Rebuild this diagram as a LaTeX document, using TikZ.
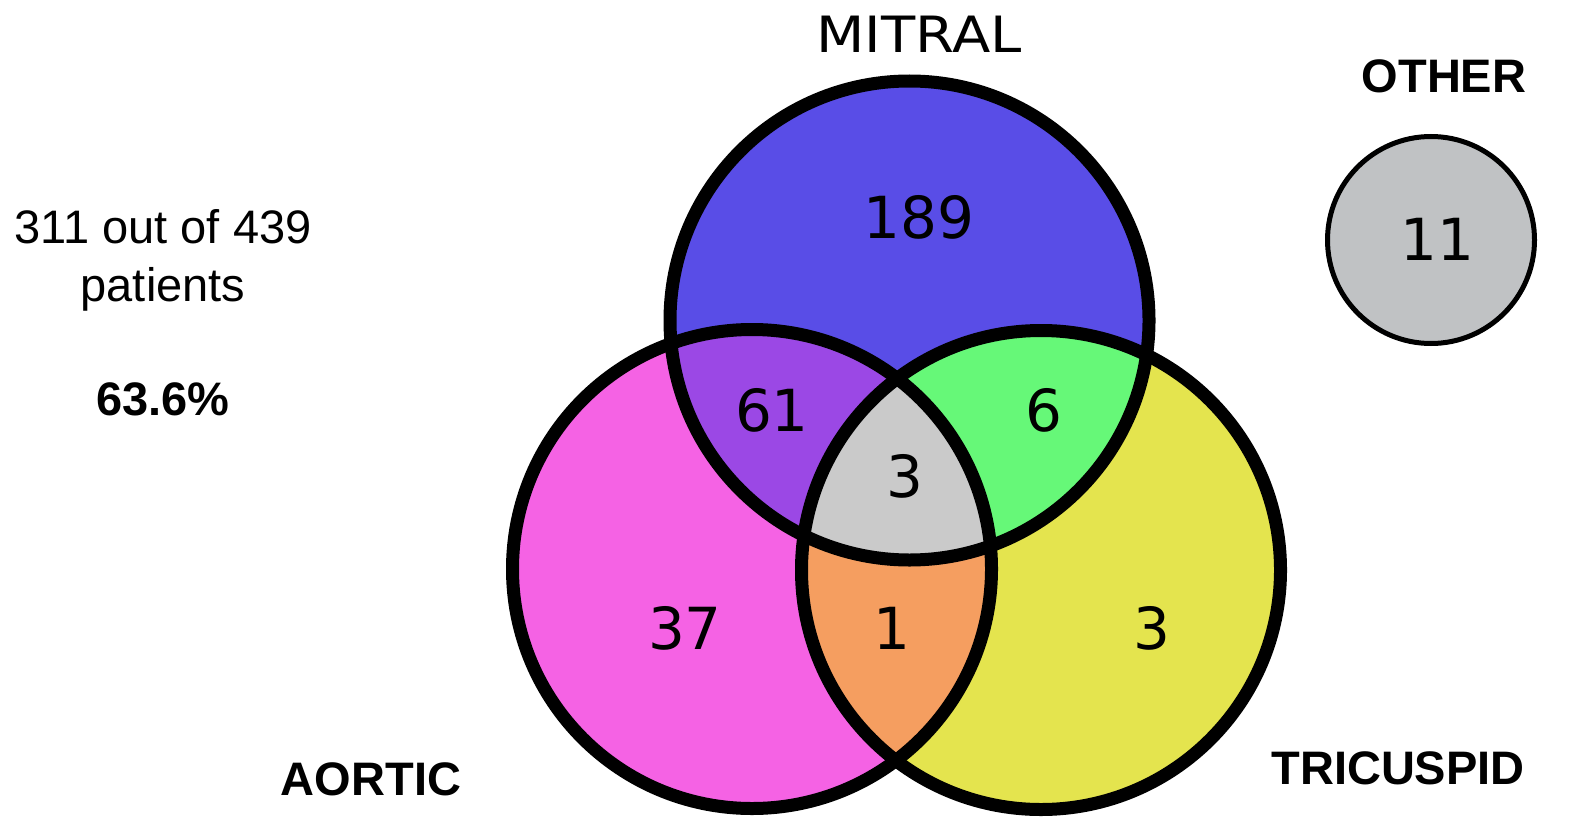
\documentclass[tikz,border=0pt]{standalone}
\usepackage{fontspec}
\setmainfont{Liberation Sans}
\newfontfamily\dvfont{DejaVu Sans}
\definecolor{cmit}{RGB}{89,77,231}
\definecolor{cma}{RGB}{155,72,229}
\definecolor{cmt}{RGB}{102,248,120}
\definecolor{call}{RGB}{202,202,202}
\definecolor{cat}{RGB}{245,158,96}
\definecolor{cao}{RGB}{245,98,228}
\definecolor{ctr}{RGB}{228,228,78}
\definecolor{cother}{RGB}{192,194,196}
\begin{document}
\begin{tikzpicture}[x=1pt,y=-1pt,
  ring/.style={draw=black,line width=13pt},
  num/.style={font=\dvfont\fontsize{58}{60}\selectfont,anchor=base,inner sep=0pt},
  lab/.style={font=\bfseries\fontsize{47}{56}\selectfont,anchor=base,inner sep=0pt},
  txt/.style={font=\fontsize{47}{56}\selectfont,anchor=base,inner sep=0pt}]
\useasboundingbox (0,0) rectangle (1589,824);
\fill[white] (0,0) rectangle (1589,824);
\coordinate (M) at (909.5,320.5);
\coordinate (A) at (752,569);
\coordinate (T) at (1041,570);
\coordinate (O) at (1431,240);
\def\R{239.5pt}
% base fills
\fill[cmit] (M) circle[radius=\R];
\fill[cao] (A) circle[radius=\R];
\fill[ctr] (T) circle[radius=\R];
% pairwise and triple intersections
\begin{scope}
  \clip (M) circle[radius=\R];
  \fill[cma] (A) circle[radius=\R];
  \fill[cmt] (T) circle[radius=\R];
\end{scope}
\begin{scope}
  \clip (A) circle[radius=\R];
  \fill[cat] (T) circle[radius=\R];
  \clip (M) circle[radius=\R];
  \fill[call] (T) circle[radius=\R];
\end{scope}
% outlines
\draw[ring] (M) circle[radius=\R];
\draw[ring] (A) circle[radius=\R];
\draw[ring] (T) circle[radius=\R];
\draw[draw=black,line width=5pt,fill=cother] (O) circle[radius=103.5pt];
% numbers
\node[num] (n189) at (919,238) {189};
\node[num] (n61) at (772,431) {61};
\node[num] (n6) at (1044,431) {6};
\node[num] (n3c) at (905,497) {3};
\node[num] (n37) at (685,649) {37};
\node[num] (n1) at (892,649) {1};
\node[num] (n3r) at (1152,649) {3};
\node[num] (n11) at (1437,260) {11};
% labels
\node[font=\dvfont\fontsize{50}{56}\selectfont,anchor=base,inner sep=0pt,xscale=1.12] (lmit) at (919,53) {MITRAL};
\node[lab] (loth) at (1444,93) {OTHER};
\node[lab] (laor) at (371,795) {AORTIC};
\node[lab] (ltri) at (1398,784) {TRICUSPID};
% left text
\node[txt] (t1) at (163,243) {311 out of 439};
\node[txt] (t2) at (163,301) {patients};
\node[lab] (t3) at (163,415) {63.6\%};
\end{tikzpicture}
\end{document}
